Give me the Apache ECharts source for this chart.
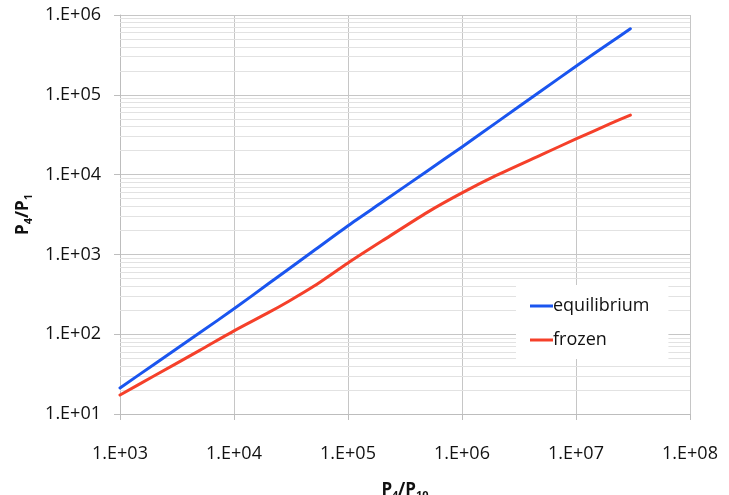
<!DOCTYPE html>
<html>
<head>
<meta charset="utf-8">
<script src="https://cdn.jsdelivr.net/npm/echarts@6/dist/echarts.min.js"></script>
<style>
  html, body { margin: 0; padding: 0; background: #fff; }
  #chart { width: 729px; height: 495px; }
</style>
</head>
<body>
<div id="chart"></div>
<script>
// Pressure ratio P4/P10 on the x axis
const pressureRatio = [1e3, 2e3, 5e3, 1e4, 2e4, 3e4, 5e4, 1e5, 2e5, 5e5, 1e6, 2e6, 5e6, 1e7, 2e7, 3e7];
// Required P4/P1 for equilibrium and frozen chemistry
const equilibrium = [21.2, 42.1, 104, 208, 428, 652, 1110, 2290, 4530, 11200, 22200, 44800, 113000, 228000, 452000, 673000];
const frozen      = [17.3, 30.1, 62.7, 110, 186, 257, 398, 782, 1480, 3390, 5900, 9770, 17800, 28000, 43400, 55800];
const seriesNames = ['equilibrium', 'frozen'];

const FONT = 'Open Sans';
const TEXT = '#111';

function sci(v) {
  const e = Math.round(Math.log10(v));
  return '1.E+' + (e < 10 ? '0' + e : e);
}

// light horizontal lines at 2..9 x 10^k between the major decades
const minorLines = [];
for (let k = 1; k < 6; k++) {
  for (let m = 2; m <= 9; m++) minorLines.push({ yAxis: m * Math.pow(10, k) });
}

const nameRich = {
  b: { fontFamily: FONT, fontSize: 17, fontWeight: 'bold', color: TEXT },
  s: { fontFamily: FONT, fontSize: 11, fontWeight: 'bold', color: TEXT, verticalAlign: 'bottom', padding: [10, 0, 0, 0] }
};

const chart = echarts.init(document.getElementById('chart'), null, { renderer: 'canvas' });
chart.setOption({
  animation: false,
  backgroundColor: '#fff',
  grid: { left: 120, right: 39, top: 15, bottom: 81, containLabel: false, outerBoundsMode: 'none' },
  legend: {
    data: seriesNames,
    orient: 'vertical',
    left: 516,
    top: 285,
    z: 20,
    backgroundColor: '#fff',
    padding: [12, 19, 10, 14],
    itemGap: 16,
    itemWidth: 23,
    itemHeight: 3,
    icon: 'rect',
    textStyle: { fontFamily: FONT, fontSize: 18, color: TEXT, padding: [0, 0, 0, -5] }
  },
  xAxis: {
    type: 'log',
    logBase: 10,
    min: 1e3,
    max: 1e8,
    axisLine: { show: true, lineStyle: { color: '#bdbdbd', width: 1 } },
    axisTick: { show: true, length: 6, lineStyle: { color: '#bdbdbd' } },
    axisLabel: { formatter: sci, fontFamily: FONT, fontSize: 18, color: TEXT, margin: 31 },
    splitLine: { show: true, lineStyle: { color: '#c6c6c6', width: 1 } },
    minorTick: { show: false },
    name: '{b|P}{s|4}{b|/P}{s|10}',
    nameLocation: 'middle',
    nameGap: 66,
    nameTextStyle: { rich: nameRich }
  },
  yAxis: {
    type: 'log',
    logBase: 10,
    min: 10,
    max: 1e6,
    axisLine: { show: true, lineStyle: { color: '#bdbdbd', width: 1 } },
    axisTick: { show: true, length: 6, lineStyle: { color: '#bdbdbd' } },
    axisLabel: { formatter: sci, fontFamily: FONT, fontSize: 18, color: TEXT, margin: 19 },
    splitLine: { show: true, lineStyle: { color: '#c6c6c6', width: 1 } },
    name: '{b|P}{s|4}{b|/P}{s|1}',
    nameLocation: 'middle',
    nameGap: 86,
    nameTextStyle: { rich: nameRich }
  },
  series: [
    {
      name: 'grid-minor',
      type: 'line',
      data: [],
      z: 0,
      silent: true,
      markLine: {
        silent: true,
        symbol: ['none', 'none'],
        label: { show: false },
        lineStyle: { color: '#e2e2e2', width: 1, type: 'solid' },
        data: minorLines,
        animation: false
      }
    },
    {
      name: seriesNames[0],
      type: 'line',
      z: 5,
      data: pressureRatio.map((x, i) => [x, equilibrium[i]]),
      showSymbol: false,
      smooth: 0.25,
      lineStyle: { color: '#1a55ef', width: 3, cap: 'round', join: 'round' },
      itemStyle: { color: '#1a55ef' }
    },
    {
      name: seriesNames[1],
      type: 'line',
      z: 5,
      data: pressureRatio.map((x, i) => [x, frozen[i]]),
      showSymbol: false,
      smooth: 0.25,
      lineStyle: { color: '#f5402a', width: 3, cap: 'round', join: 'round' },
      itemStyle: { color: '#f5402a' }
    }
  ]
});
</script>
</body>
</html>
